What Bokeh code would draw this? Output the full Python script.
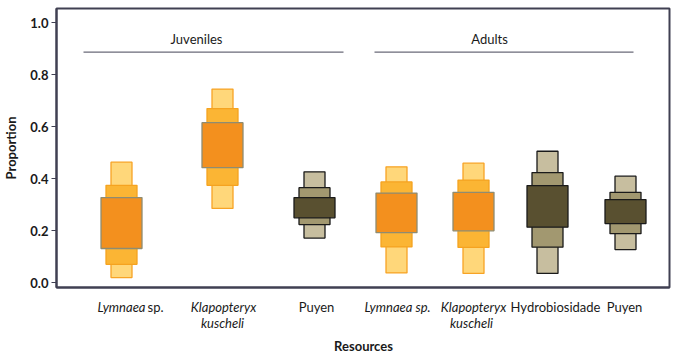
from bokeh.plotting import figure
from bokeh.layouts import column
from bokeh.models import Label, Range1d, FixedTicker, NumeralTickFormatter
from bokeh.core.properties import value
from bokeh.embed import file_html
from bokeh.resources import INLINE

# ---- data ----
groups = ["Juveniles", "Juveniles", "Juveniles", "Adults", "Adults", "Adults", "Adults"]
resources = ["Lymnaea sp.", "Klapopteryx kuscheli", "Puyen",
             "Lymnaea sp.", "Klapopteryx kuscheli", "Hydrobiosidade", "Puyen"]
palette_kind = ["orange", "orange", "dark", "orange", "orange", "dark", "dark"]
# credible intervals: 95%, 75%, 50% (lower / upper)
lo95 = [0.019, 0.285, 0.171, 0.037, 0.035, 0.035, 0.127]
lo75 = [0.070, 0.374, 0.223, 0.137, 0.135, 0.136, 0.188]
lo50 = [0.131, 0.442, 0.249, 0.192, 0.199, 0.213, 0.227]
hi50 = [0.327, 0.615, 0.327, 0.344, 0.347, 0.373, 0.319]
hi75 = [0.374, 0.669, 0.365, 0.387, 0.394, 0.423, 0.347]
hi95 = [0.463, 0.744, 0.426, 0.445, 0.459, 0.505, 0.409]
y_ticks = [0.0, 0.2, 0.4, 0.6, 0.8, 1.0]
group_names = ["Juveniles", "Adults"]

# ---- layout (pixel-like x scale) ----
x_pos = [121, 222, 314, 396, 473, 547, 625]
group_line = [(83, 343), (374, 633)]
group_label_x = [196, 489]

FONT = "Lato"
TXT = "#1A1A1A"
colors = {
    "orange": [("#FFD77A", "#F7A325"), ("#FBB534", "#F5A320"), ("#F3901E", "#8E8C72")],
    "dark": [("#C7BE9F", "#1A1A1A"), ("#A29870", "#1A1A1A"), ("#595030", "#1A1A1A")],
}

p = figure(frame_width=613, frame_height=279, output_backend="svg", toolbar_location=None,
           x_range=Range1d(56, 669), y_range=Range1d(-0.019, 1.054),
           min_border_left=48, min_border_top=8, min_border_right=2, min_border_bottom=4)
p.xgrid.visible = False
p.ygrid.visible = False
p.outline_line_color = "#404052"
p.outline_line_width = 2

# y axis
ya = p.yaxis[0]
ya.ticker = FixedTicker(ticks=y_ticks)
ya.formatter = NumeralTickFormatter(format="0.0")
ya.axis_line_color = "#404052"
ya.axis_line_width = 2
ya.major_tick_line_color = "#404052"
ya.major_tick_out = 5
ya.major_tick_in = 0
ya.minor_tick_line_color = None
ya.major_label_text_font = FONT
ya.major_label_text_font_style = "bold"
ya.major_label_text_font_size = "13px"
ya.major_label_text_color = TXT
ya.major_label_standoff = 3
ya.axis_label = "Proportion"
ya.axis_label_text_font = FONT
ya.axis_label_text_font_style = "bold"
ya.axis_label_text_font_size = "13px"
ya.axis_label_text_color = TXT
ya.axis_label_standoff = 8

# x axis: line only
xa = p.xaxis[0]
xa.axis_line_color = "#404052"
xa.axis_line_width = 2
xa.major_tick_line_color = None
xa.minor_tick_line_color = None
xa.major_label_text_font_size = "0px"
xa.ticker = FixedTicker(ticks=[])

# boxes: 95% (narrow), 75%, 50% (wide)
widths = [21, 31, 41]
levels = [(lo95, hi95), (lo75, hi75), (lo50, hi50)]
for i in range(len(x_pos)):
    for k, (lo, hi) in enumerate(levels):
        fill, line = colors[palette_kind[i]][k]
        p.vbar(x=[x_pos[i]], width=widths[k], bottom=[lo[i]], top=[hi[i]],
               fill_color=fill, line_color=line, line_width=1.3)

# group lines and labels
for g, (x0, x1) in enumerate(group_line):
    p.segment(x0=[x0], x1=[x1], y0=[0.8865], y1=[0.8865], line_color="#6A6A78", line_width=1.3)
    p.add_layout(Label(x=group_label_x[g], y=0.935, text=group_names[g], text_align="center",
                       text_baseline="middle", text_font=FONT, text_font_size="13px",
                       text_color=TXT))

# ---- label strip below, sharing the x scale ----
q = figure(frame_width=613, height=64, output_backend="svg", toolbar_location=None,
           x_range=p.x_range, y_range=Range1d(64, 0),
           min_border_left=48, min_border_right=2, min_border_top=0, min_border_bottom=0)
q.axis.visible = False
q.xgrid.visible = False
q.ygrid.visible = False
q.outline_line_color = None

def lab(x, y, t, style="normal", align="center"):
    q.text(x=[x], y=[y], text=[t], text_align=align, text_baseline="middle",
           text_font=value(FONT), text_font_size="13px",
           text_font_style=style, text_color=TXT)

r1, r2 = 15, 31
lab(145, r1, "Lymnaea", "italic", "right")
lab(147, r1, "sp.", "normal", "left")
lab(223, r1, "Klapopteryx", "italic")
lab(222, r2, "kuscheli", "italic")
lab(316, r1, "Puyen")
lab(397, r1, "Lymnaea sp.", "italic")
lab(473, r1, "Klapopteryx", "italic")
lab(471, r2, "kuscheli", "italic")
lab(555, r1, "Hydrobiosidade")
lab(624, r1, "Puyen")
lab(363, 54, "Resources", "bold")

layout = column(p, q, spacing=0)
open("out.html", "w").write(file_html(layout, INLINE))
